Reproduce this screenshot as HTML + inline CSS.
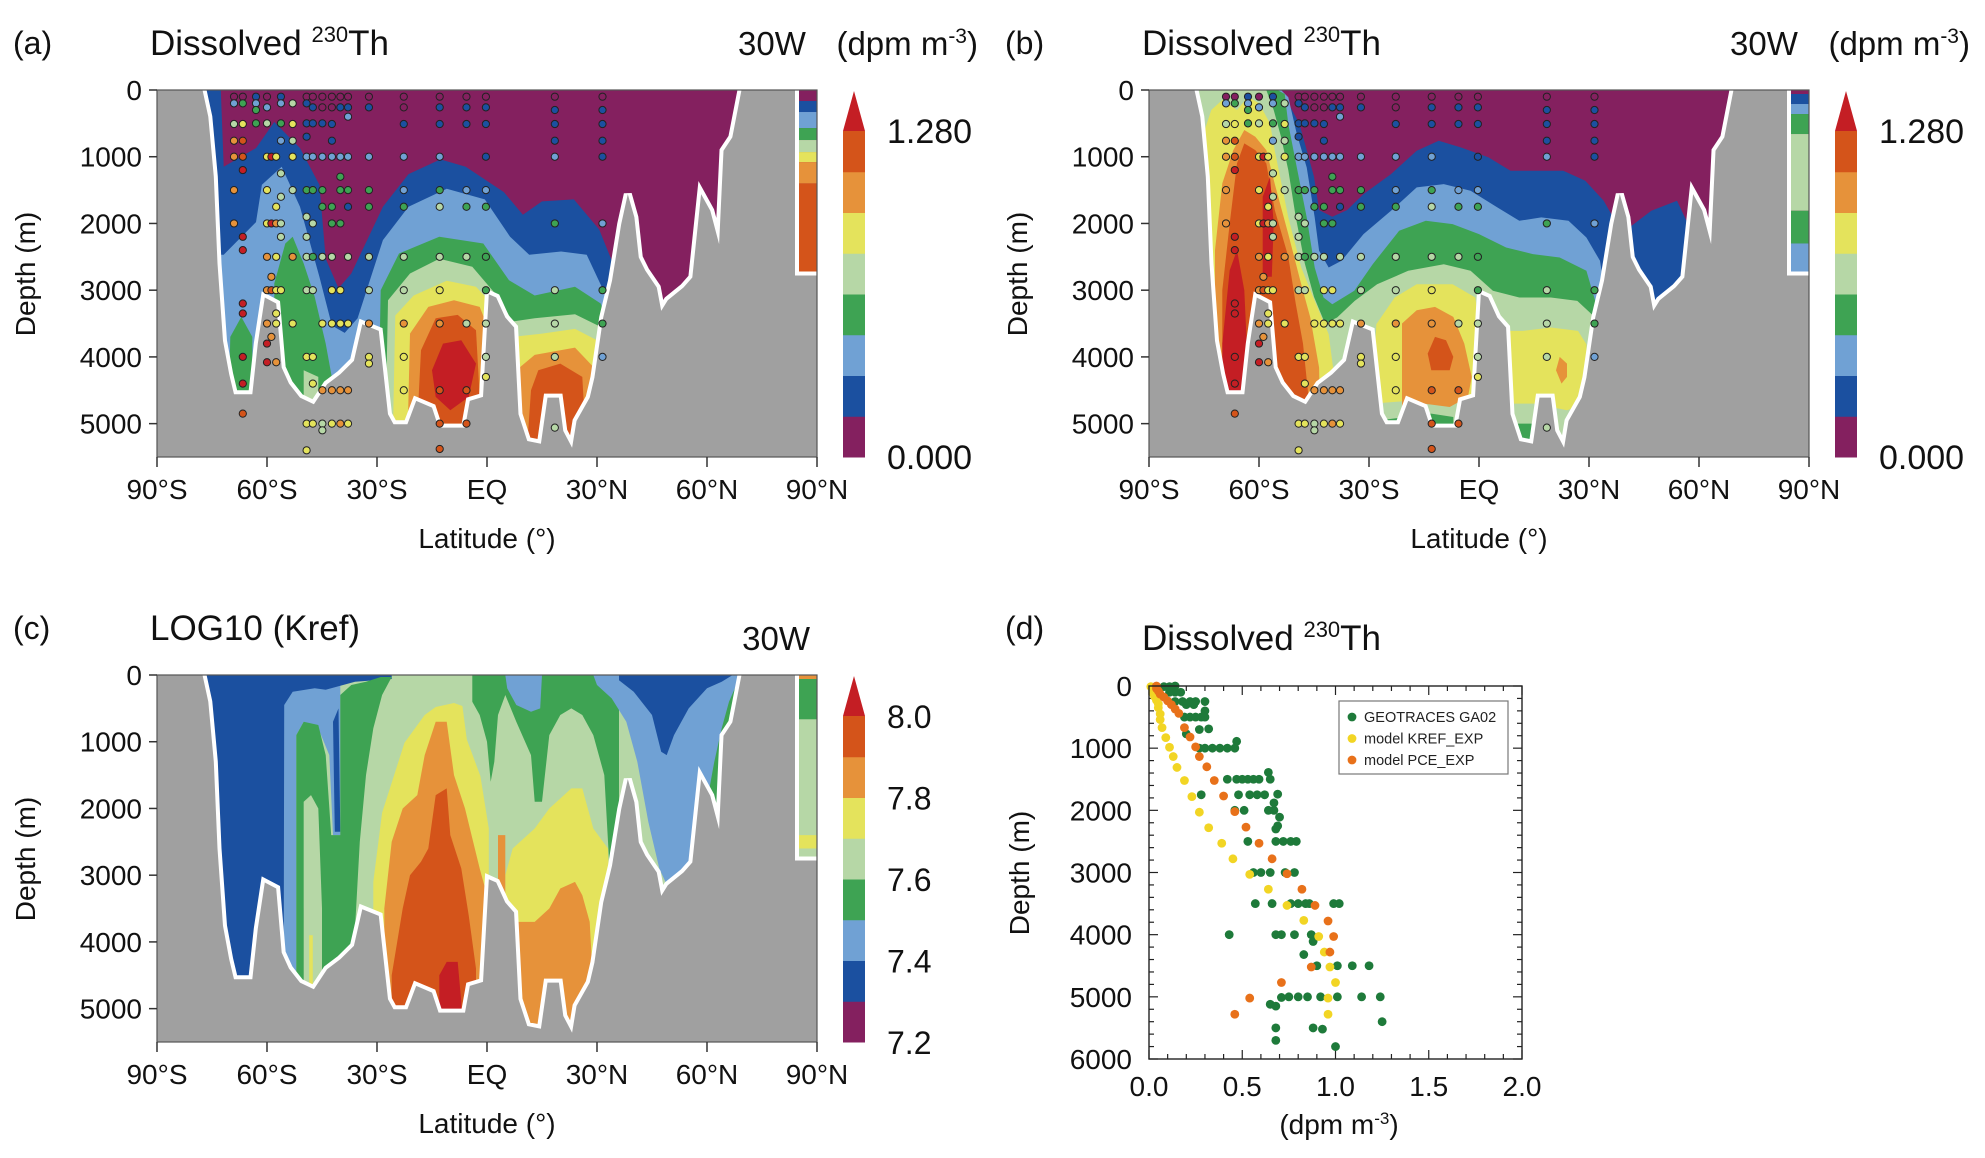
<!DOCTYPE html>
<html><head><meta charset="utf-8"><style>
html,body{margin:0;padding:0;background:#fff;}
svg{display:block;font-family:"Liberation Sans",Arial,sans-serif;}
</style></head><body>
<svg id="fig" width="1985" height="1158" viewBox="0 0 1985 1158" xmlns="http://www.w3.org/2000/svg">
<g font-size="33" fill="#111">
<text x="13" y="54" font-size="32">(a)</text>
<text x="150" y="55" font-size="35">Dissolved <tspan dy="-13" font-size="22">230</tspan><tspan dy="13">Th</tspan></text>
<text x="738" y="55">30W</text>
<text x="978" y="55" text-anchor="end">(dpm m<tspan dy="-12" font-size="21">-3</tspan><tspan dy="12">)</tspan></text>
<text x="1005" y="54" font-size="32">(b)</text>
<text x="1142" y="55" font-size="35">Dissolved <tspan dy="-13" font-size="22">230</tspan><tspan dy="13">Th</tspan></text>
<text x="1730" y="55">30W</text>
<text x="1970" y="55" text-anchor="end">(dpm m<tspan dy="-12" font-size="21">-3</tspan><tspan dy="12">)</tspan></text>
<text x="13" y="639" font-size="32">(c)</text>
<text x="150" y="640" font-size="35">LOG10 (Kref)</text>
<text x="810" y="650" text-anchor="end">30W</text>
<text x="1005" y="639" font-size="32">(d)</text>
<text x="1142" y="650" font-size="35">Dissolved <tspan dy="-13" font-size="22">230</tspan><tspan dy="13">Th</tspan></text>
</g>
<g id="layer"></g>
</svg>
<script>
const NS='http://www.w3.org/2000/svg';
const PAL=['#84205f','#1b50a0','#70a1d4','#3ea353','#b6d7a6','#e4e35c','#e6923a','#d4541a','#c41e24'];
const GRAY='#a0a0a0';
const latTickVals=[-90,-60,-30,0,30,60,90];
const latTickLabels=['90°S','60°S','30°S','EQ','30°N','60°N','90°N'];
const depthTicks=[0,1000,2000,3000,4000,5000];
const cbLabelsAB=['0.000','1.280'];
const cbLabelsC=['7.2','7.4','7.6','7.8','8.0'];
const bathyLat=[-90,-77.6,-76,-74.5,-73.5,-72,-70.3,-69,-64,-62.5,-60.6,-57.5,-56,-54,-51,-47.2,-43.6,-40,-36.3,-34,-29.5,-27,-25.5,-21.7,-19.3,-15,-13.2,-6,-4.7,-1.1,0.5,2.5,5,7.4,8.6,11,14.7,16.5,19.6,20.8,23.2,24.4,28,29.3,31.7,34.1,36.6,38.4,40.2,41.4,43.2,46.3,47.5,49.3,53.6,56,58.4,60.9,63.3,64.5,66.9,69.4,84,84,90];
const bathyDep=[0,0,400,1300,2600,3760,4260,4560,4560,3800,3110,3200,4160,4400,4610,4710,4410,4260,4060,3510,3610,4860,5010,5010,4660,4760,5060,5060,4660,4600,3060,3110,3410,3560,4860,5260,5300,4610,4610,5110,5360,4960,4610,4310,3410,2860,2010,1560,1910,2510,2710,2960,3310,3150,2960,2810,1560,1810,2310,910,710,0,0,2780,2780];
const patchesA=[
[1,[[-78,0],[-72.6,0],[-71.8,1150],[-63,870],[-58,480],[-51,870],[-45.7,1420],[-44,2530],[-40.5,2970],[-37,2750],[-28.4,1750],[-21.4,1260],[-12.7,1040],[-5.8,1150],[4.6,1530],[9.8,1870],[15,1670],[23.7,1640],[30.6,2090],[35.8,2800],[36,6000],[-78,6000]]],
[2,[[-80,2470],[-71.8,2470],[-63,1980],[-61.4,1420],[-56,1150],[-51,1750],[-45.7,2800],[-42.3,3530],[-38.8,3640],[-35.3,3420],[-28.4,2250],[-21.4,1750],[-11,1480],[-0.6,1640],[6.3,2200],[11.5,2470],[20.2,2420],[27.2,2470],[32.4,3080],[33,6000],[-80,6000]]],
[3,[[-71,6000],[-70,3700],[-67,3400],[-64,3700],[-64,6000]]],
[3,[[-58,6000],[-58,2900],[-55,2300],[-53,2200],[-50,2600],[-47,3100],[-44,3800],[-42,4400],[-42,6000]]],
[3,[[-30,6000],[-29,3000],[-24,2450],[-13,2200],[-1,2300],[6,2850],[13,3080],[24,2950],[31,3200],[33,3500],[33,6000]]],
[4,[[-50,6000],[-50,4200],[-46,4300],[-46,6000]]],
[4,[[-28,6000],[-27,3150],[-21,2750],[-13,2530],[-4,2650],[3,3100],[7,3470],[13,3420],[24,3360],[31,3550],[32,6000]]],
[5,[[-26,6000],[-25,3380],[-20,3080],[-11,2860],[-3,2950],[3,3300],[7,3700],[15,3650],[24,3580],[30,3750],[31,6000]]],
[6,[[-22,6000],[-21,3650],[-16,3250],[-9,3150],[-2,3250],[2,3800],[3,6000]]],
[6,[[7,6000],[8,4200],[13,3970],[24,3860],[29,4150],[29,6000]]],
[7,[[-19,5000],[-18,3900],[-14,3420],[-8,3370],[-3,3600],[-2,4600],[-6,5000]]],
[7,[[11,5300],[12,4500],[14,4200],[20,4100],[26,4300],[27,5300]]],
[8,[[-15,4200],[-12,3800],[-7,3750],[-3,4100],[-5,4600],[-10,4800],[-14,4600]]]
];
const patchesB=[
[1,[[-78,0],[-56,0],[-52,200],[-49,500],[-47,900],[-45,1300],[-43.6,1800],[-40,1900],[-36,1800],[-31.5,1560],[-24,1260],[-17,910],[-11,760],[-5,860],[2.6,1010],[8.6,1210],[23,1210],[29,1360],[34,1660],[37,1950],[41,2060],[47,1810],[54,1660],[57,2010],[58,6000],[-78,6000]]],
[2,[[-78,0],[-54,0],[-52,110],[-49.7,660],[-47,1160],[-44.8,1910],[-43.6,2410],[-41,2660],[-37.5,2560],[-31.5,2160],[-24,1810],[-17,1460],[-9.6,1410],[-2.3,1510],[5,1760],[11,1960],[17,1910],[24.4,1960],[29.3,2210],[33,2560],[34,2910],[34,6000],[-78,6000]]],
[3,[[-78,0],[-55,0],[-53,60],[-52,510],[-49.7,1160],[-47,1910],[-44.8,2660],[-42.4,3110],[-40,3210],[-34,3010],[-29,2610],[-21.8,2110],[-14.5,1960],[-7.2,2010],[0,2160],[7.4,2360],[14.7,2460],[22,2510],[29.3,2710],[31.7,3160],[32,6000],[-78,6000]]],
[4,[[-78,0],[-58,0],[-56,300],[-54,700],[-52,1200],[-50,1900],[-47.5,2600],[-45,3100],[-42,3500],[-38.7,3410],[-33.9,3160],[-27.8,2910],[-19.3,2710],[-9.6,2610],[-2.3,2710],[3.8,3010],[11,3110],[19.6,3110],[26.8,3160],[31.7,3410],[32,6000],[-78,6000]]],
[5,[[-76,6000],[-76,800],[-73,300],[-70,150],[-66,300],[-63,100],[-60,200],[-57,500],[-55.7,910],[-52,1910],[-48.5,2660],[-44.8,3160],[-41,3660],[-39,4500],[-39,6000]]],
[5,[[-29,4700],[-28,3510],[-23,3110],[-17,2910],[-7.2,2910],[-1,3110],[0,3500],[0,4700],[-5,4600]]],
[5,[[7,4700],[7.4,3610],[12,3610],[19.6,3560],[27,3610],[29.3,3810],[29.5,4700],[24,4800],[15,4700]]],
[3,[[-27,6000],[-27,4950],[-20,4900],[-13,4850],[-7,4900],[-7,6000]]],
[3,[[10,6000],[10,5000],[16,5000],[16,6000]]],
[6,[[-72,6000],[-72,2400],[-70,1400],[-67,900],[-64,600],[-61,700],[-58,900],[-55.7,1410],[-52,2160],[-48.5,2910],[-46,3410],[-43.6,4160],[-43,6000]]],
[6,[[-21,5000],[-21,3500],[-17,3300],[-12,3250],[-7,3400],[-4,3800],[-2,4300],[-3,4600],[-8,4750],[-15,4700],[-20,4600]]],
[6,[[21,4200],[22,4000],[24,4100],[24,4300],[22.5,4400]]],
[7,[[-70,6000],[-70,3000],[-68,2000],[-66,1100],[-64,800],[-61,900],[-58,1100],[-55.7,1800],[-52,2500],[-50,3200],[-48,3800],[-46.5,4600],[-46,6000]]],
[7,[[-14,3950],[-12,3700],[-9,3750],[-7,4000],[-8,4200],[-13,4200]]],
[8,[[-70,4600],[-70,3800],[-68,2700],[-66,2400],[-64,3000],[-63,4200],[-64,4700]]],
[8,[[-59,2800],[-59,1600],[-57,1300],[-56,2000],[-56.5,2800]]]
];
const patchesC=[
[2,[[-55.5,0],[-40,0],[-40,2400],[-42,2400],[-43,1200],[-46,800],[-50,700],[-52,900],[-52,6000],[-55.5,6000]]],
[1,[[-78,0],[-26,0],[-26,60],[-36,100],[-44,220],[-47,200],[-53,250],[-55.3,450],[-55.5,6000],[-78,6000]]],
[1,[[-42,700],[-40.5,500],[-40,2350],[-41.5,2350]]],
[3,[[-52,6000],[-52,900],[-50,700],[-46,750],[-44,1200],[-42.5,2400],[-40,2400],[-40,300],[-37,150],[-33,100],[-29,30],[-26,30],[-28.6,300],[-31,800],[-33,1500],[-34.7,2500],[-36,3800],[-38,4500],[-38,6000]]],
[4,[[-50,6000],[-50,1900],[-48,1800],[-46,2000],[-45,3500],[-45,6000]]],
[5,[[-48.5,6000],[-48.5,3900],[-47.5,3900],[-47.5,6000]]],
[5,[[-31,6000],[-31,3100],[-28.6,2065],[-22.5,1015],[-17,600],[-14,480],[-9,420],[-6.7,465],[-5.5,965],[-1.8,1515],[0.5,2300],[0.5,3000],[0,6000]]],
[6,[[-28,6000],[-28,3500],[-26,2500],[-23,2000],[-19,1800],[-17,1200],[-14,700],[-11,700],[-9,1500],[-6,2000],[-2,2900],[0,3300],[0,6000]]],
[7,[[-26,6000],[-26,4500],[-23,3500],[-21,3000],[-18,2800],[-16,2600],[-14,1800],[-11,1700],[-10,2400],[-7,2900],[-5,3600],[-3,4400],[-3,6000]]],
[8,[[-13,6000],[-13,4500],[-11,4300],[-8,4300],[-7,4900],[-7,6000]]],
[3,[[-4,0],[36,0],[36,2900],[33.4,2900],[32,1500],[29,900],[26,600],[23,500],[20,600],[17,900],[15,1900],[13,1900],[12,1200],[8,700],[5,300],[3,600],[2,1300],[1,1600],[0,1000],[-2,600],[-4,400]]],
[2,[[5,0],[15,0],[14.5,500],[12,550],[8,450],[5.5,200]]],
[5,[[5,6000],[5,3000],[7,2600],[13,2300],[17,2000],[21,1800],[23,1700],[26,1700],[29,2300],[33,2600],[33.5,3500],[31,4800],[30,6000]]],
[6,[[3,3300],[3,2400],[5,2400],[5,3300]]],
[6,[[7,6000],[7,3700],[13,3700],[17,3500],[20,3200],[24,3100],[26,3300],[28,3700],[29,4700],[28,6000]]],
[3,[[50,0],[70,0],[70,6000],[50,6000]]],
[2,[[29,0],[69,0],[68,150],[66,400],[64,800],[62,1300],[60,1900],[57,2300],[56,2800],[54,3000],[52,3100],[49.5,3200],[47,2900],[44,2200],[41,1300],[38,700],[34,350],[30,150]]],
[1,[[36,0],[67,0],[64,100],[60,200],[55,500],[51,900],[49,1200],[47.5,1150],[45,600],[40,250],[36,80]]]
];
const arcticA=[[0,165,0],[165,330,1],[330,570,2],[570,750,3],[750,930,4],[930,1080,5],[1080,1400,6],[1400,2800,7]];
const arcticB=[[0,60,0],[60,210,1],[210,360,2],[360,660,3],[660,1810,4],[1810,2300,3],[2300,2800,2]];
const arcticC=[[0,60,6],[60,665,3],[665,2400,4],[2400,2600,5],[2600,2800,4]];
const stLat=[-69,-69,-69,-69,-69,-69,-69,-66.6,-66.6,-66.6,-66.6,-66.6,-66.6,-66.6,-66.6,-66.6,-66.6,-66.6,-66.6,-66.6,-63,-63,-63,-63,-60,-60,-60,-60,-60,-60,-60,-60,-60,-60,-60,-58.8,-58.8,-58.8,-58.8,-58.8,-57.5,-57.5,-57.5,-57.5,-57.5,-57.5,-57.5,-57.5,-56.2,-56.2,-56.2,-56.2,-56.2,-56.2,-56.2,-56.2,-56.2,-53,-53,-53,-53,-53,-53,-53,-49.2,-49.2,-49.2,-49.2,-49.2,-49.2,-49.2,-49.2,-49.2,-49.2,-49.2,-49.2,-49.2,-47.5,-47.5,-47.5,-47.5,-47.5,-47.5,-47.5,-47.5,-47.5,-47.5,-47.5,-44.9,-44.9,-44.9,-44.9,-44.9,-44.9,-44.9,-44.9,-44.9,-44.9,-44.9,-42.3,-42.3,-42.3,-42.3,-42.3,-42.3,-42.3,-42.3,-42.3,-42.3,-42.3,-42.3,-40,-40,-40,-40,-40,-40,-40,-40,-40,-40,-37.9,-37.9,-37.9,-37.9,-37.9,-37.9,-37.9,-37.9,-37.9,-37.9,-32.2,-32.2,-32.2,-32.2,-32.2,-32.2,-32.2,-32.2,-32.2,-32.2,-22.7,-22.7,-22.7,-22.7,-22.7,-22.7,-22.7,-22.7,-22.7,-22.7,-22.7,-12.9,-12.9,-12.9,-12.9,-12.9,-12.9,-12.9,-12.9,-12.9,-12.9,-12.9,-12.9,-5.6,-5.6,-5.6,-5.6,-5.6,-5.6,-5.6,-5.6,-5.6,-0.3,-0.3,-0.3,-0.3,-0.3,-0.3,-0.3,-0.3,-0.3,-0.3,-0.3,18.5,18.5,18.5,18.5,18.5,18.5,18.5,18.5,18.5,18.5,31.5,31.5,31.5,31.5,31.5,31.5,31.5,31.5,31.5];
const stDep=[100,200,510,760,1000,1500,2000,100,200,510,760,1000,1200,2200,2400,3200,3350,4000,4400,4850,100,200,300,500,100,260,500,1000,1500,2000,2500,3000,3500,3800,4080,1000,2000,2800,3000,3700,1000,1750,2000,2500,3000,3350,3500,4080,100,200,500,760,1250,1600,2000,2200,3000,200,510,760,1000,1500,2500,3500,100,200,500,700,1000,1500,1900,2200,2500,3000,4000,5000,5400,100,260,500,1000,1500,2000,2500,3000,4000,4400,5000,100,260,500,1000,1500,1750,2500,3500,4500,5000,5100,100,260,510,760,1000,1750,2000,2500,3000,3500,4500,5000,100,260,1000,1300,1500,2000,3000,3500,4500,5000,100,260,400,1000,1500,1750,2500,3500,4500,5000,100,260,1000,1500,1750,2500,3000,3500,4000,4100,100,260,510,1000,1500,1750,2500,3000,3500,4000,4500,100,260,510,1000,1500,1750,2500,3000,3500,4500,5000,5380,100,260,510,1500,1750,2500,3500,4500,5000,100,260,510,1000,1500,1750,2500,3000,3500,4000,4300,100,300,510,760,1000,2000,3000,3500,4000,5060,100,300,510,760,1000,2000,3000,3500,4000];
const stLev=[0,2,4,6,6,6,6,0,3,5,7,7,8,8,8,8,8,8,8,7,1,2,3,3,0,2,4,5,5,5,6,6,6,8,8,8,8,6,7,6,5,5,6,5,5,5,5,6,1,2,3,2,4,4,4,4,5,4,5,4,5,4,6,5,0,1,1,1,2,3,4,4,4,4,5,5,5,0,1,1,2,3,4,3,4,5,5,5,0,0,1,2,3,3,4,5,6,4,4,0,0,1,1,2,3,3,4,5,5,6,5,0,1,2,3,3,3,5,5,6,6,0,1,2,2,3,1,4,5,6,5,0,1,2,3,3,4,4,6,5,5,0,0,1,2,2,3,4,4,6,5,5,0,1,1,2,3,4,4,5,6,7,7,7,0,1,1,2,3,4,4,7,7,0,1,1,1,2,3,3,3,4,4,5,0,1,1,1,2,3,4,4,4,4,0,1,1,1,1,2,3,3,2];
const dDepthTicks=[0,1000,2000,3000,4000,5000,6000];
const dValTicks=[0,0.5,1.0,1.5,2.0];
const dValTickLabels=['0.0','0.5','1.0','1.5','2.0'];
const geoVal=[0.08,0.11,0.14,0.12,0.11,0.14,0.17,0.14,0.18,0.22,0.25,0.3,0.2,0.24,0.3,0.19,0.22,0.25,0.28,0.3,0.27,0.32,0.2,0.47,0.27,0.3,0.34,0.38,0.42,0.46,0.64,0.42,0.47,0.5,0.53,0.56,0.59,0.65,0.28,0.48,0.54,0.58,0.62,0.69,0.67,0.46,0.51,0.64,0.67,0.7,0.69,0.68,0.53,0.68,0.72,0.76,0.79,0.56,0.6,0.65,0.73,0.78,0.57,0.66,0.76,0.8,0.84,0.86,0.99,1.02,0.43,0.68,0.71,0.78,0.87,0.88,0.83,0.9,1.01,1.09,1.18,0.71,0.75,0.8,0.85,0.92,1.01,1.14,1.24,0.65,0.68,1.25,0.68,0.88,0.93,0.68,1.0];
const geoDep=[10,10,0,20,100,100,100,250,250,250,250,250,300,300,400,500,500,500,500,500,700,690,770,890,1000,1000,1000,1000,1000,1000,1390,1500,1500,1500,1500,1500,1500,1500,1750,1750,1750,1750,1750,1740,1880,2000,2000,2000,2000,2110,2250,2300,2500,2500,2500,2500,2500,3000,3000,3000,3000,3000,3500,3500,3500,3500,3500,3500,3500,3500,4000,4000,4000,4000,4000,4110,4320,4500,4500,4500,4500,5010,5000,5000,5000,5000,5000,5000,5000,5120,5150,5400,5500,5500,5520,5700,5800];
const krefVal=[0.01,0.02,0.02,0.03,0.04,0.05,0.05,0.06,0.06,0.07,0.09,0.11,0.13,0.15,0.19,0.23,0.27,0.32,0.39,0.45,0.54,0.64,0.74,0.83,0.91,0.94,0.97,1.0,0.96,0.96];
const krefDep=[10,60,110,170,230,290,350,450,540,670,830,985,1135,1310,1520,1780,2030,2280,2530,2780,3030,3270,3530,3770,4030,4280,4520,4770,5020,5280];
const pceVal=[0.04,0.04,0.05,0.06,0.08,0.1,0.12,0.14,0.16,0.19,0.22,0.25,0.27,0.31,0.35,0.4,0.46,0.52,0.59,0.66,0.74,0.82,0.89,0.96,0.99,0.97,0.87,0.71,0.54,0.46];
const pceDep=[0,40,80,130,180,240,300,370,440,670,820,980,1135,1300,1520,1770,2020,2270,2530,2780,3020,3270,3530,3780,4030,4280,4520,4770,5020,5280];
const legendLabels=['GEOTRACES GA02','model KREF_EXP','model PCE_EXP'];
const legendColors=['#1e7a3a','#f2d524','#e8711a'];

const layer=document.getElementById('layer');
function mk(tag,attrs,parent){const e=document.createElementNS(NS,tag);for(const k in attrs)e.setAttribute(k,attrs[k]);(parent||layer).appendChild(e);return e;}

function section(key,x0,y0,patches,base,arctic,withStations,cbLabels){
  const W=660,H=367;
  const xs=lat=>x0+(lat+90)/180*W;
  const ys=d=>y0+d/5500*H;
  const g=mk('g',{});
  
  
  const cp=mk('clipPath',{id:'clip'+key},g);
  mk('rect',{x:x0,y:y0,width:W,height:H},cp);
  const inner=mk('g',{'clip-path':'url(#clip'+key+')'},g);
  const bg=mk('rect',{x:x0,y:y0,width:W,height:H,fill:PAL[base]},inner);
  
  
  patches.forEach(p=>{
    const pts=p[1].map(q=>xs(q[0]).toFixed(1)+','+ys(q[1]).toFixed(1)).join(' ');
    const el=mk('polygon',{points:pts,fill:PAL[p[0]]},inner);
    
    
  });
  arctic.forEach(a=>{
    const el=mk('rect',{x:xs(84),y:ys(a[0]),width:xs(90)-xs(84),height:ys(a[1])-ys(a[0]),fill:PAL[a[2]]},inner);
    
    
  });
  let bp=xs(-90)+','+ys(5600);
  for(let i=0;i<bathyLat.length;i++) bp+=' '+xs(bathyLat[i]).toFixed(1)+','+ys(bathyDep[i]).toFixed(1);
  bp+=' '+xs(90)+','+ys(5600);
  const outline=mk('polygon',{points:bp,fill:'#fff',stroke:'#fff','stroke-width':8,'stroke-linejoin':'miter'},inner);
  
  
  const sea=mk('polygon',{points:bp,fill:GRAY},inner);
  
  
  if(withStations){
    for(let i=0;i<stLat.length;i++){
      const c=mk('circle',{cx:xs(stLat[i]),cy:ys(stDep[i]),r:3.6,fill:PAL[stLev[i]],stroke:'#222','stroke-width':1},inner);
      
      
    }
  }
  const fr=mk('rect',{x:x0,y:y0,width:W,height:H,fill:'none',stroke:'#555','stroke-width':1.2},g);
  
  
  depthTicks.forEach(d=>{
    const t=mk('line',{x1:x0-8,x2:x0,y1:ys(d),y2:ys(d),stroke:'#333','stroke-width':1.5},g);
    
    
    const l=mk('text',{x:x0-15,y:ys(d)+10,'text-anchor':'end','font-size':28,fill:'#111'},g);
    l.textContent=String(d);
    
    
  });
  latTickVals.forEach((v,i)=>{
    const t=mk('line',{x1:xs(v),x2:xs(v),y1:y0+H,y2:y0+H+10,stroke:'#333','stroke-width':1.5},g);
    
    
    const l=mk('text',{x:xs(v),y:y0+H+42,'text-anchor':'middle','font-size':28,fill:'#111'},g);
    l.textContent=latTickLabels[i];
    
    
  });
  const xl=mk('text',{x:x0+330,y:y0+H+91,'text-anchor':'middle','font-size':28,fill:'#111'},g);
  xl.textContent='Latitude (°)';
  
  
  const yl=mk('text',{x:0,y:0,'text-anchor':'middle','font-size':28,fill:'#111',transform:'translate('+(x0-122)+','+(y0+184)+') rotate(-90)'},g);
  yl.textContent='Depth (m)';
  
  
  const cx=x0+686,cw=22,ct=y0+41,cb=y0+H;
  const bh=(cb-ct)/8;
  const cg=mk('g',{},g);
  
  
  for(let k=0;k<8;k++){
    const r=mk('rect',{x:cx,y:cb-(k+1)*bh,width:cw,height:bh+0.5,fill:PAL[k]},cg);
    
    
  }
  const tri=mk('polygon',{points:cx+','+ct+' '+(cx+cw)+','+ct+' '+(cx+cw/2)+','+(y0+1),fill:PAL[8]},cg);
  
  
  const n=cbLabels.length;
  cbLabels.forEach((s,i)=>{
    const yy=n===2?(i===0?cb:ct):cb-i*(cb-ct)/(n-1);
    const l=mk('text',{x:cx+44,y:yy+12,'font-size':n===2?34:32,fill:'#111'},cg);
    l.textContent=s;
    
    
  });
}
section('a',157,90,patchesA,0,arcticA,true,cbLabelsAB);
section('b',1149,90,patchesB,0,arcticB,true,cbLabelsAB);
section('c',157,675,patchesC,4,arcticC,false,cbLabelsC);

(function(){
  const x0=1149,y0=686,W=373,H=373;
  const xd=v=>x0+v/2*W, yd=d=>y0+d/6000*H;
  const g=mk('g',{});
  
  
  for(let v=0;v<=2.0001;v+=0.1){
    const major=Math.abs(v*2-Math.round(v*2))<1e-6;
    const len=major?9:5;
    const t1=mk('line',{x1:xd(v),x2:xd(v),y1:y0+H,y2:y0+H-len,stroke:'#222','stroke-width':1.2},g);
    
    
    const t2=mk('line',{x1:xd(v),x2:xd(v),y1:y0,y2:y0+len,stroke:'#222','stroke-width':1.2},g);
    
    
  }
  for(let d=0;d<=6000;d+=200){
    const len=d%1000===0?9:5;
    const t1=mk('line',{x1:x0,x2:x0+len,y1:yd(d),y2:yd(d),stroke:'#222','stroke-width':1.2},g);
    
    
    const t2=mk('line',{x1:x0+W,x2:x0+W-len,y1:yd(d),y2:yd(d),stroke:'#222','stroke-width':1.2},g);
    
    
  }
  dDepthTicks.forEach(d=>{
    const l=mk('text',{x:x0-17,y:yd(d)+10,'text-anchor':'end','font-size':28,fill:'#111'},g);
    l.textContent=String(d);
    
    
  });
  dValTicks.forEach((v,i)=>{
    const l=mk('text',{x:xd(v),y:y0+H+37,'text-anchor':'middle','font-size':28,fill:'#111'},g);
    l.textContent=dValTickLabels[i];
    
    
  });
  const yl=mk('text',{x:0,y:0,'text-anchor':'middle','font-size':28,fill:'#111',transform:'translate(1029,873) rotate(-90)'},g);
  yl.textContent='Depth (m)';
  
  
  const xl=mk('text',{x:1339,y:1134,'text-anchor':'middle','font-size':28,fill:'#111'},g);
  xl.innerHTML='(dpm m<tspan dy="-10" font-size="17">-3</tspan><tspan dy="10">)</tspan>';
  
  
  const series=[[geoVal,geoDep,'geotraces-point'],[krefVal,krefDep,'kref-model-point'],[pceVal,pceDep,'pce-model-point']];
  series.forEach((s,si)=>{
    for(let i=0;i<s[0].length;i++){
      const c=mk('circle',{cx:xd(s[0][i]),cy:yd(s[1][i]),r:4.4,fill:legendColors[si]},g);
      
      
    }
  });
  const fr=mk('rect',{x:x0,y:y0,width:W,height:H,fill:'none',stroke:'#222','stroke-width':1.4},g);
  
  
  const lg=mk('g',{},g);
  
  
  const lb=mk('rect',{x:1339,y:701,width:169,height:73,fill:'#fff',stroke:'#777','stroke-width':1.2},lg);
  
  
  legendLabels.forEach((s,i)=>{
    const yy=717+i*21.5;
    const m=mk('circle',{cx:1352,cy:yy,r:4.4,fill:legendColors[i]},lg);
    
    
    const t=mk('text',{x:1364,y:yy+5,'font-size':14.5,fill:'#222'},lg);
    t.textContent=s;
    
    
  });
})();
</script>
</body></html>
